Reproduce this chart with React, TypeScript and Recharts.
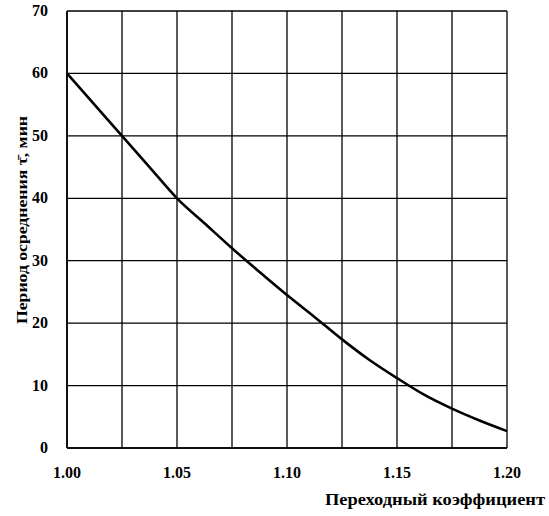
import React from "react";
import { LineChart, Line, XAxis, YAxis, CartesianGrid, Label } from "recharts";

// Переходный коэффициент
const coefficients = [
  1.0, 1.0125, 1.025, 1.0375, 1.05, 1.0625, 1.075, 1.0875, 1.1, 1.1125, 1.125,
  1.1375, 1.15, 1.1625, 1.175, 1.1875, 1.2,
];
// Период осреднения, мин
const periods = [
  60, 55, 50, 45, 40, 36, 32, 28.2, 24.5, 21, 17.4, 14.1, 11.2, 8.5, 6.3, 4.4, 2.7,
];

const xTicks = [1.0, 1.025, 1.05, 1.075, 1.1, 1.125, 1.15, 1.175, 1.2];
const xLabelled = [1.0, 1.05, 1.1, 1.15, 1.2];
const yTicks = [0, 10, 20, 30, 40, 50, 60, 70];

const xTitle = "Переходный коэффициент";
const yTitle = "Период осреднения \u03C4\u0304, мин";

const data = coefficients.map((k, i) => ({ k, t: periods[i] }));

const font = "'Liberation Serif', 'DejaVu Serif', serif";

const XTick = ({ x, y, payload }: any) => {
  const v = payload.value as number;
  if (!xLabelled.some((l) => Math.abs(l - v) < 1e-6)) return null;
  return (
    <text
      x={x}
      y={y + 22}
      textAnchor="middle"
      fill="#000"
      fontSize={16}
      fontWeight={700}
      fontFamily={font}
    >
      {v.toFixed(2)}
    </text>
  );
};

const YTick = ({ x, y, payload }: any) => (
  <text
    x={x - 11}
    y={y + 5}
    textAnchor="end"
    fill="#000"
    fontSize={16}
    fontWeight={700}
    fontFamily={font}
  >
    {payload.value}
  </text>
);

export default function App() {
  return (
    <div style={{ position: "absolute", left: 0, top: 0, width: 549, height: 516, background: "#fff" }}>
      <LineChart
        width={549}
        height={516}
        data={data}
        margin={{ top: 11, right: 42, left: 7, bottom: 0 }}
      >
        <CartesianGrid stroke="#000" strokeWidth={1.3} horizontal vertical />
        <XAxis
          dataKey="k"
          type="number"
          domain={[1.0, 1.2]}
          ticks={xTicks}
          interval={0}
          height={68}
          axisLine={{ stroke: "#000", strokeWidth: 1.6 }}
          tickLine={false}
          tick={<XTick />}
        >
          <Label
            content={() => (
              <text
                x={545}
                y={505}
                textAnchor="end"
                fill="#000"
                fontSize={16}
                fontWeight={700}
                fontFamily={font}
                textLength={220}
                lengthAdjust="spacingAndGlyphs"
              >
                {xTitle}
              </text>
            )}
          />
        </XAxis>
        <YAxis
          type="number"
          domain={[0, 70]}
          ticks={yTicks}
          interval={0}
          width={60}
          axisLine={{ stroke: "#000", strokeWidth: 1.6 }}
          tickLine={false}
          tick={<YTick />}
        >
          <Label
            content={() => (
              <text
                x={0}
                y={0}
                transform="translate(27,220) rotate(-90)"
                textAnchor="middle"
                fill="#000"
                fontSize={15}
                fontWeight={700}
                fontFamily={font}
                textLength={208}
                lengthAdjust="spacingAndGlyphs"
              >
                {yTitle}
              </text>
            )}
          />
        </YAxis>
        <Line
          type="monotone"
          dataKey="t"
          stroke="#000"
          strokeWidth={2.6}
          dot={false}
          isAnimationActive={false}
        />
      </LineChart>
    </div>
  );
}
